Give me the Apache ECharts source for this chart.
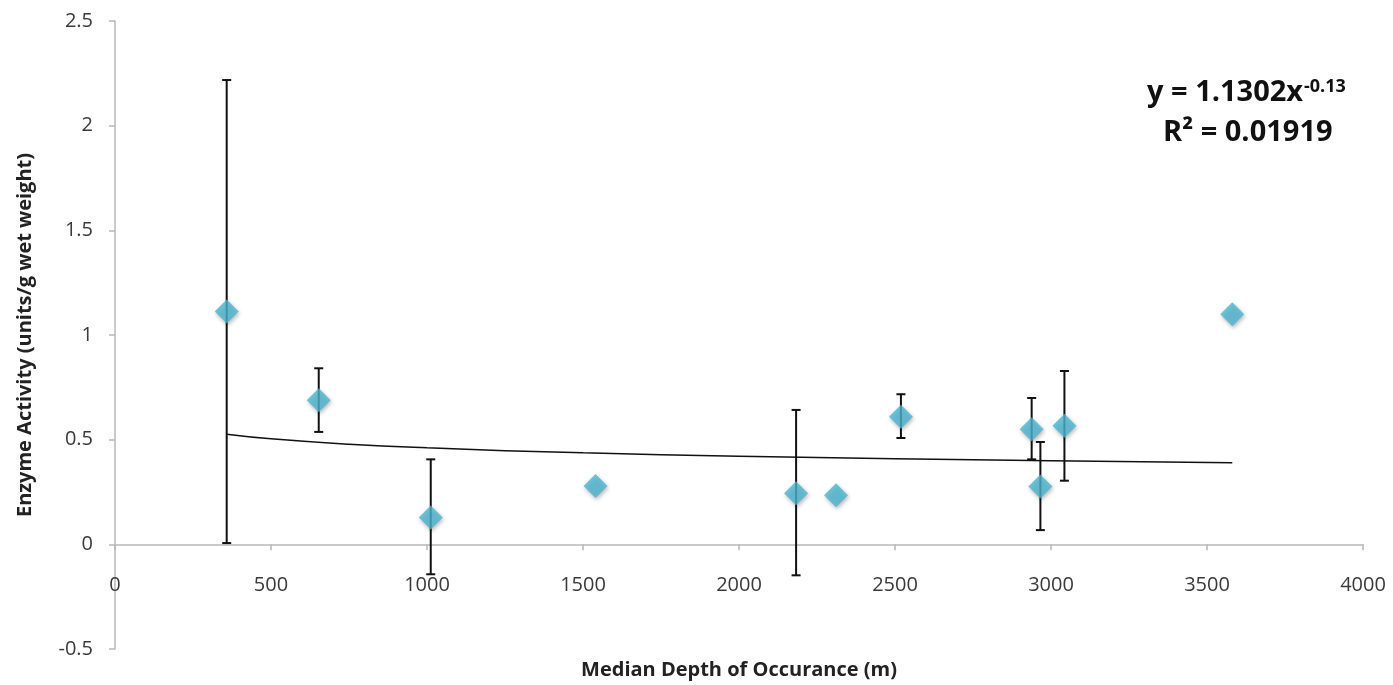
<!DOCTYPE html>
<html>
<head>
<meta charset="utf-8">
<script src="https://cdn.jsdelivr.net/npm/echarts@6/dist/echarts.min.js"></script>
<style>
html,body{margin:0;padding:0;background:#fff;}
#chart{width:1393px;height:685px;}
</style>
</head>
<body>
<div id="chart"></div>
<script>
// Data
const depth    = [358, 653, 1012, 1540, 2183, 2311, 2519, 2938, 2966, 3043, 3581];
const activity = [1.112, 0.688, 0.128, 0.279, 0.244, 0.234, 0.610, 0.550, 0.276, 0.566, 1.099];
const errLow   = [0.006, 0.537, -0.143, null, -0.148, null, 0.508, 0.406, 0.068, 0.304, null];
const errHigh  = [2.218, 0.841, 0.406, null, 0.642, null, 0.717, 0.699, 0.489, 0.828, null];
// Power trendline as drawn in the picture
const trendX = [358, 500, 750, 1000, 1500, 2000, 2500, 3000, 3581];
const trendY = [0.526, 0.504, 0.478, 0.461, 0.437, 0.421, 0.409, 0.399, 0.390];
const xTicks = [0, 500, 1000, 1500, 2000, 2500, 3000, 3500, 4000];
const yTicks = [-0.5, 0, 0.5, 1, 1.5, 2, 2.5];

const font = '"Open Sans", "DejaVu Sans", sans-serif';
const chart = echarts.init(document.getElementById('chart'), null, {renderer: 'canvas'});

const errData = [];
depth.forEach((d, i) => { if (errLow[i] !== null) errData.push([d, errLow[i], errHigh[i]]); });

chart.setOption({
  animation: false,
  backgroundColor: '#fff',
  grid: {left: 115, right: 30, top: 21, bottom: 36, containLabel: false, outerBoundsMode: 'none'},
  xAxis: {
    type: 'value', min: xTicks[0], max: xTicks[xTicks.length - 1], interval: 500,
    axisLine: {onZero: true, lineStyle: {color: '#b8b8b8', width: 1.5}},
    axisTick: {show: true, length: 6, lineStyle: {color: '#b8b8b8', width: 1.5}},
    axisLabel: {margin: -74, color: '#3a3a3a', fontFamily: font, fontSize: 20, formatter: v => String(v)},
    splitLine: {show: false},
    name: 'Median Depth of Occurance (m)', nameLocation: 'middle', nameGap: 11,
    nameTextStyle: {fontFamily: font, fontSize: 20, fontWeight: 'bold', color: '#222'}
  },
  yAxis: {
    type: 'value', min: yTicks[0], max: yTicks[yTicks.length - 1], interval: 0.5,
    axisLine: {show: true, onZero: false, lineStyle: {color: '#b8b8b8', width: 1.5}},
    axisTick: {show: true, length: 6, lineStyle: {color: '#b8b8b8', width: 1.5}},
    axisLabel: {margin: 22, color: '#3a3a3a', fontFamily: font, fontSize: 20, formatter: v => String(v)},
    splitLine: {show: false},
    name: 'Enzyme Activity (units/g wet weight)', nameLocation: 'middle', nameGap: 80, nameRotate: 90,
    nameTextStyle: {fontFamily: font, fontSize: 20, fontWeight: 'bold', color: '#222'}
  },
  graphic: [
    {type: 'text', x: 1147, y: 93, style: {text: 'y = 1.1302x', font: 'bold 29px ' + font, fill: '#111', textVerticalAlign: 'middle'}},
    {type: 'text', x: 1304, y: 87, style: {text: '-0.13', font: 'bold 18px ' + font, fill: '#111', textVerticalAlign: 'middle'}},
    {type: 'text', x: 1163, y: 133, style: {text: 'R² = 0.01919', font: 'bold 29px ' + font, fill: '#111', textVerticalAlign: 'middle'}}
  ],
  series: [
    {
      type: 'line', data: trendX.map((x, i) => [x, trendY[i]]), smooth: true,
      showSymbol: false, symbol: 'none', lineStyle: {color: '#111', width: 1.5}, z: 2, silent: true
    },
    {
      type: 'custom', z: 3, silent: true,
      data: errData,
      renderItem: function (params, api) {
        const x = api.value(0);
        const lo = api.coord([x, api.value(1)]);
        const hi = api.coord([x, api.value(2)]);
        const cw = 4.5;
        const st = {stroke: '#111', lineWidth: 2};
        return {type: 'group', children: [
          {type: 'line', shape: {x1: lo[0], y1: lo[1], x2: hi[0], y2: hi[1]}, style: st},
          {type: 'line', shape: {x1: lo[0] - cw, y1: lo[1], x2: lo[0] + cw, y2: lo[1]}, style: st},
          {type: 'line', shape: {x1: hi[0] - cw, y1: hi[1], x2: hi[0] + cw, y2: hi[1]}, style: st}
        ]};
      }
    },
    {
      type: 'scatter', z: 4, data: depth.map((d, i) => [d, activity[i]]),
      symbol: 'diamond', symbolSize: [24, 24],
      itemStyle: {color: '#4cb5d0', shadowBlur: 4, shadowColor: 'rgba(0,0,0,0.35)', shadowOffsetX: 1, shadowOffsetY: 2}
    }
  ]
});
</script>
</body>
</html>
